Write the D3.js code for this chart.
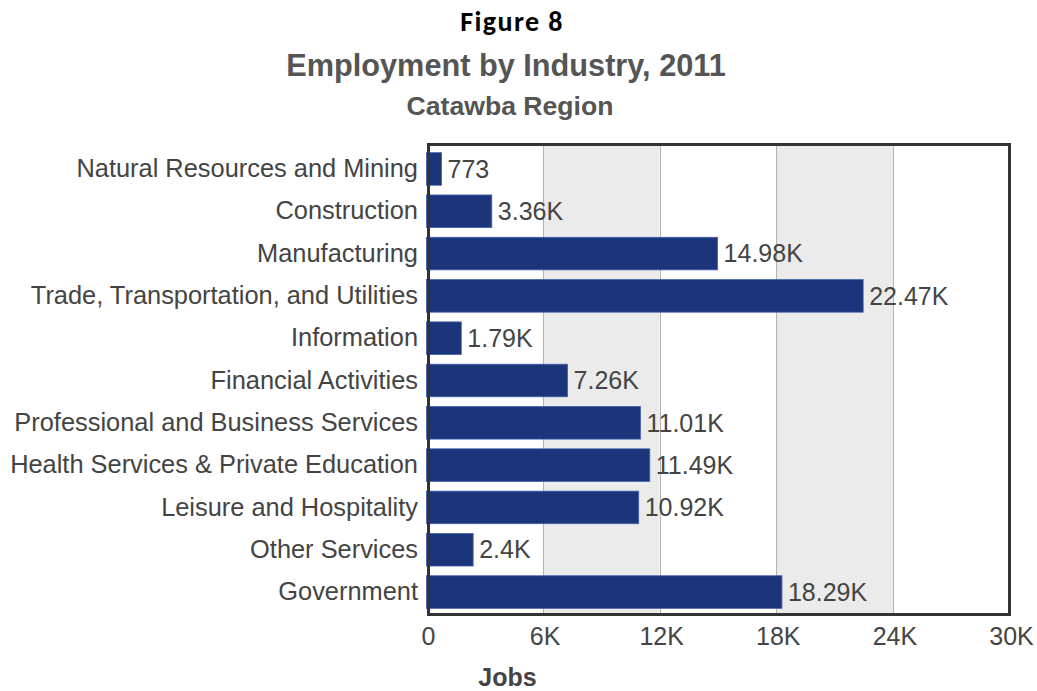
<!DOCTYPE html>
<html>
<head>
<meta charset="utf-8">
<script src="https://cdn.jsdelivr.net/npm/d3@7"></script>
<style>
  html, body { margin: 0; padding: 0; background: #fff; }
  svg { display: block; }
</style>
</head>
<body>
<svg id="chart" width="1037" height="691"></svg>
<script>
const categories = [
  "Natural Resources and Mining",
  "Construction",
  "Manufacturing",
  "Trade, Transportation, and Utilities",
  "Information",
  "Financial Activities",
  "Professional and Business Services",
  "Health Services & Private Education",
  "Leisure and Hospitality",
  "Other Services",
  "Government"
];
const jobs = [773, 3360, 14980, 22470, 1790, 7260, 11010, 11490, 10920, 2400, 18290];
const valueLabels = ["773", "3.36K", "14.98K", "22.47K", "1.79K", "7.26K", "11.01K", "11.49K", "10.92K", "2.4K", "18.29K"];
const tickValues = [0, 6000, 12000, 18000, 24000, 30000];
const tickLabels = ["0", "6K", "12K", "18K", "24K", "30K"];

const svg = d3.select("#chart");
const sans = "'Liberation Sans', Arial, Helvetica, sans-serif";

const x = d3.scaleLinear().domain([0, 30000]).range([426.5, 1009.5]);
const y = d3.scaleBand().domain(categories).range([147.8, 613.2]).paddingInner(0.23).paddingOuter(0.115);

// Titles
svg.append("text").attr("x", 512).attr("y", 31).attr("text-anchor", "middle")
  .attr("font-family", "Carlito, Lato, 'Open Sans', sans-serif").attr("font-weight", "bold")
  .attr("font-size", 28).attr("letter-spacing", 1.4).attr("fill", "#000").text("Figure 8");
svg.append("text").attr("x", 506).attr("y", 76).attr("text-anchor", "middle")
  .attr("font-family", sans).attr("font-weight", "bold")
  .attr("font-size", 30.7).attr("fill", "#555").text("Employment by Industry, 2011");
svg.append("text").attr("x", 510).attr("y", 115).attr("text-anchor", "middle")
  .attr("font-family", sans).attr("font-weight", "bold")
  .attr("font-size", 26.6).attr("fill", "#555").text("Catawba Region");

// Alternating bands
const bands = [[6000, 12000], [18000, 24000]];
svg.append("g").selectAll("rect").data(bands).join("rect")
  .attr("x", d => x(d[0])).attr("width", d => x(d[1]) - x(d[0]))
  .attr("y", 145).attr("height", 469)
  .attr("fill", "#ebebeb");

// Grid lines
svg.append("g").selectAll("line").data(tickValues.slice(1, -1)).join("line")
  .attr("x1", d => Math.round(x(d)) + 0.5).attr("x2", d => Math.round(x(d)) + 0.5)
  .attr("y1", 145).attr("y2", 614)
  .attr("stroke", "#b3b3b3").attr("stroke-width", 1);

// Bars
svg.append("g").selectAll("rect").data(jobs).join("rect")
  .attr("x", x(0)).attr("y", (d, i) => y(categories[i]))
  .attr("width", d => x(d) - x(0)).attr("height", y.bandwidth())
  .attr("fill", "#1c3479").attr("stroke", "#4262b0").attr("stroke-width", 0.8);

// Value labels
svg.append("g").selectAll("text").data(jobs).join("text")
  .attr("x", d => x(d) + 6)
  .attr("y", (d, i) => y(categories[i]) + y.bandwidth() / 2)
  .attr("dy", "0.35em")
  .attr("font-family", sans).attr("font-size", 25).attr("fill", "#444")
  .text((d, i) => valueLabels[i]);

// Frame
svg.append("rect").attr("x", 428.5).attr("y", 144.5).attr("width", 581).attr("height", 470)
  .attr("fill", "none").attr("stroke", "#333").attr("stroke-width", 3);

// Category labels (y axis)
const yAxis = d3.axisLeft(y).tickSize(0).tickPadding(0);
const yg = svg.append("g").attr("transform", "translate(418,0)").call(yAxis);
yg.select(".domain").remove();
yg.selectAll("text").attr("font-family", sans).attr("font-size", 25.4).attr("fill", "#444");

// X axis tick labels
const xAxis = d3.axisBottom(x).tickValues(tickValues).tickFormat((d, i) => tickLabels[i]).tickSize(0).tickPadding(0);
const xg = svg.append("g").attr("transform", "translate(1.5,627)").call(xAxis);
xg.select(".domain").remove();
xg.selectAll("text").attr("font-family", sans).attr("font-size", 25).attr("fill", "#444");

// X axis title
svg.append("text").attr("x", 507.5).attr("y", 686).attr("text-anchor", "middle")
  .attr("font-family", sans).attr("font-weight", "bold")
  .attr("font-size", 25).attr("fill", "#444").text("Jobs");
</script>
</body>
</html>
